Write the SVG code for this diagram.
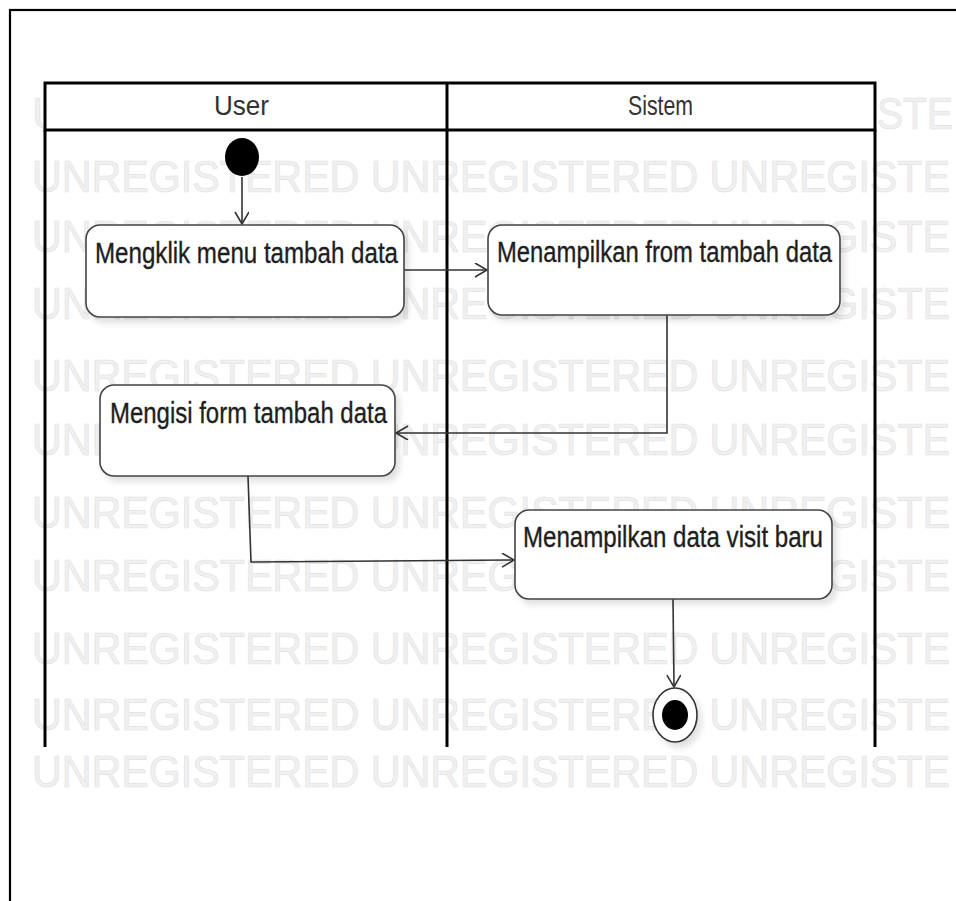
<svg xmlns="http://www.w3.org/2000/svg" width="956" height="901" viewBox="0 0 956 901">
<defs>
<style>
.wm{font-family:"Liberation Sans",Arial,sans-serif;font-size:45px;fill:#f0f0f0;stroke:#e3e3e3;stroke-width:0.7}
.lane{fill:none;stroke:#000;stroke-width:3}
.hdr{font-family:"Liberation Sans",Arial,sans-serif;font-size:28px;fill:#333}
.box{fill:#fff;stroke:#444;stroke-width:1.6}
.lbl{font-family:"Liberation Sans",Arial,sans-serif;font-size:29px;fill:#1e1e1e;stroke:#1e1e1e;stroke-width:0.35}
.edge{fill:none;stroke:#333;stroke-width:1.6}
</style>
<marker id="arr" markerUnits="userSpaceOnUse" markerWidth="16" markerHeight="16" refX="13" refY="7" orient="auto">
<path d="M1,0 L13,7 L1,14" fill="none" stroke="#333" stroke-width="1.6"/>
</marker>
<filter id="sh" x="-10%" y="-10%" width="130%" height="140%">
<feDropShadow dx="4" dy="5" stdDeviation="3" flood-color="#000" flood-opacity="0.12"/>
</filter>
</defs>
<rect x="0" y="0" width="956" height="901" fill="#fff"/>
<rect x="10" y="10" width="1000" height="1000" fill="none" stroke="#000" stroke-width="2.2"/>
<g id="watermark">
<text class="wm" x="32" y="129">U</text>
<text class="wm" x="877" y="129" textLength="76" lengthAdjust="spacingAndGlyphs">STE</text>
<text class="wm" x="32" y="192" textLength="918" lengthAdjust="spacingAndGlyphs">UNREGISTERED UNREGISTERED UNREGISTE</text>
<text class="wm" x="32" y="252" textLength="918" lengthAdjust="spacingAndGlyphs">UNREGISTERED UNREGISTERED UNREGISTE</text>
<text class="wm" x="32" y="319" textLength="918" lengthAdjust="spacingAndGlyphs">UNREGISTERED UNREGISTERED UNREGISTE</text>
<text class="wm" x="32" y="391" textLength="918" lengthAdjust="spacingAndGlyphs">UNREGISTERED UNREGISTERED UNREGISTE</text>
<text class="wm" x="32" y="455" textLength="918" lengthAdjust="spacingAndGlyphs">UNREGISTERED UNREGISTERED UNREGISTE</text>
<text class="wm" x="32" y="528" textLength="918" lengthAdjust="spacingAndGlyphs">UNREGISTERED UNREGISTERED UNREGISTE</text>
<text class="wm" x="32" y="591" textLength="918" lengthAdjust="spacingAndGlyphs">UNREGISTERED UNREGISTERED UNREGISTE</text>
<text class="wm" x="32" y="664" textLength="918" lengthAdjust="spacingAndGlyphs">UNREGISTERED UNREGISTERED UNREGISTE</text>
<text class="wm" x="32" y="730" textLength="918" lengthAdjust="spacingAndGlyphs">UNREGISTERED UNREGISTERED UNREGISTE</text>
<text class="wm" x="32" y="787" textLength="918" lengthAdjust="spacingAndGlyphs">UNREGISTERED UNREGISTERED UNREGISTE</text>
</g>
<g id="lanes">
<rect x="45" y="83" width="830" height="47" fill="#fff" stroke="#000" stroke-width="3"/>
<line class="lane" x1="447" y1="83" x2="447" y2="747"/>
<line class="lane" x1="45" y1="130" x2="45" y2="747"/>
<line class="lane" x1="875" y1="130" x2="875" y2="747"/>
<text class="hdr" x="214" y="115" textLength="55" lengthAdjust="spacingAndGlyphs">User</text>
<text class="hdr" x="628" y="115" textLength="65" lengthAdjust="spacingAndGlyphs">Sistem</text>
</g>
<g id="connectors">
<line class="edge" x1="242" y1="177" x2="242" y2="224" marker-end="url(#arr)"/>
<line class="edge" x1="404" y1="270" x2="487" y2="270" marker-end="url(#arr)"/>
<polyline class="edge" points="667,315 667,433 396,433" marker-end="url(#arr)"/>
<polyline class="edge" points="248,476 251,562 514,560" marker-end="url(#arr)"/>
<line class="edge" x1="673" y1="599" x2="674" y2="687" marker-end="url(#arr)"/>
</g>
<g id="start">
<ellipse cx="242" cy="157" rx="17" ry="19" fill="#000"/>
</g>
<g id="n1">
<rect class="box" x="86" y="225" width="318" height="92" rx="14" filter="url(#sh)"/>
<text class="lbl" x="95" y="263" textLength="303" lengthAdjust="spacingAndGlyphs">Mengklik menu tambah data</text>
</g>
<g id="n2">
<rect class="box" x="488" y="225" width="352" height="90" rx="14" filter="url(#sh)"/>
<text class="lbl" x="497" y="262" textLength="335" lengthAdjust="spacingAndGlyphs">Menampilkan from tambah data</text>
</g>
<g id="n3">
<rect class="box" x="100" y="385" width="295" height="91" rx="14" filter="url(#sh)"/>
<text class="lbl" x="110" y="423" textLength="277" lengthAdjust="spacingAndGlyphs">Mengisi form tambah data</text>
</g>
<g id="n4">
<rect class="box" x="515" y="510" width="317" height="89" rx="14" filter="url(#sh)"/>
<text class="lbl" x="523" y="547" textLength="300" lengthAdjust="spacingAndGlyphs">Menampilkan data visit baru</text>
</g>
<g id="end">
<ellipse cx="675" cy="715" rx="22" ry="27" fill="#fff" stroke="#333" stroke-width="1.6" filter="url(#sh)"/>
<ellipse cx="675" cy="715" rx="13" ry="15" fill="#000"/>
</g>
</svg>
